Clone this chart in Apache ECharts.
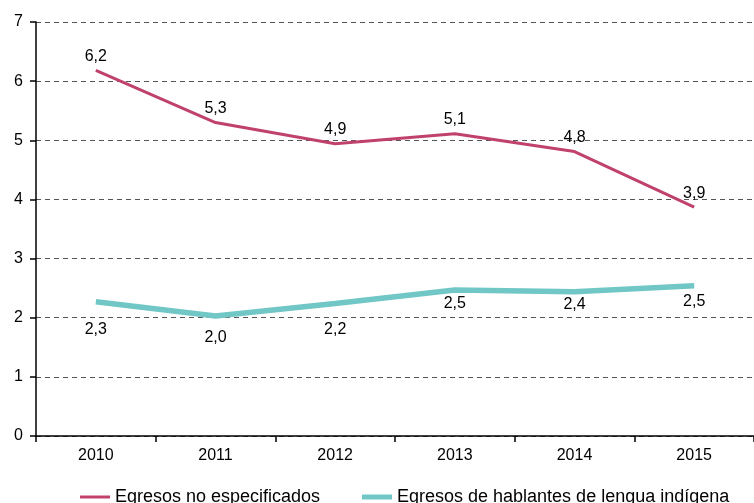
<!DOCTYPE html>
<html>
<head>
<meta charset="utf-8">
<script src="https://cdn.jsdelivr.net/npm/echarts@6/dist/echarts.min.js"></script>
<style>
  html, body { margin: 0; padding: 0; background: #fff; }
  #chart { width: 754px; height: 503px; }
</style>
</head>
<body>
<div id="chart"></div>
<script>
// años
var years = ['2010', '2011', '2012', '2013', '2014', '2015'];
// porcentajes
var noEspecificados = [6.18, 5.3, 4.94, 5.11, 4.81, 3.87];
var lenguaIndigena = [2.27, 2.03, 2.24, 2.47, 2.44, 2.54];
var serieNames = ['Egresos no especificados', 'Egresos de hablantes de lengua indígena'];

// separacion de las etiquetas de la linea verde (como en el original)
var tealGap = [20, 14, 18, 6, 5, 8];

var red = '#c0426c';
var teal = '#70c7c5';
var font = 'Liberation Sans, Arial, sans-serif';

function coma(p) {
  return p.value.toFixed(1).replace('.', ',');
}

var chart = echarts.init(document.getElementById('chart'));

var option = {
  animation: false,
  textStyle: { fontFamily: font },
  grid: { left: 36, top: 22, width: 724, height: 414, containLabel: false },
  legend: [
    {
      data: [serieNames[0]],
      left: 75, top: 483,
      icon: 'rect', itemWidth: 30, itemHeight: 3,
      textStyle: { fontSize: 18, color: '#000', fontFamily: font }
    },
    {
      data: [serieNames[1]],
      left: 357, top: 483,
      icon: 'rect', itemWidth: 30, itemHeight: 5,
      textStyle: { fontSize: 18, color: '#000', fontFamily: font }
    }
  ],
  xAxis: {
    type: 'category',
    data: years,
    boundaryGap: true,
    axisLine: { lineStyle: { color: '#000', width: 1.5 } },
    axisTick: { show: true, length: 6, lineStyle: { color: '#000', width: 1.5 } },
    axisLabel: { color: '#000', fontSize: 16, margin: 12, fontFamily: font }
  },
  yAxis: {
    type: 'value',
    min: 0, max: 7, interval: 1,
    axisLine: { show: true, lineStyle: { color: '#000', width: 1.5 } },
    axisTick: { show: true, length: 6, lineStyle: { color: '#000', width: 1.5 } },
    axisLabel: { color: '#000', fontSize: 16, margin: 13, fontFamily: font },
    splitLine: { show: true, lineStyle: { color: '#555', type: [5, 4], width: 1 } }
  },
  series: [
    {
      name: serieNames[0],
      type: 'line',
      data: noEspecificados,
      color: red,
      symbol: 'circle', symbolSize: 0, showSymbol: true,
      lineStyle: { color: red, width: 3 },
      label: { show: true, position: 'top', distance: 6, color: '#000', fontSize: 16, formatter: coma, fontFamily: font }
    },
    {
      name: serieNames[1],
      type: 'line',
      data: lenguaIndigena.map(function (v, i) {
        return { value: v, label: { distance: tealGap[i] } };
      }),
      color: teal,
      symbol: 'circle', symbolSize: 0, showSymbol: true,
      lineStyle: { color: teal, width: 5.5 },
      label: { show: true, position: 'bottom', color: '#000', fontSize: 16, formatter: coma, fontFamily: font }
    }
  ]
};

chart.setOption(option);
</script>
</body>
</html>
